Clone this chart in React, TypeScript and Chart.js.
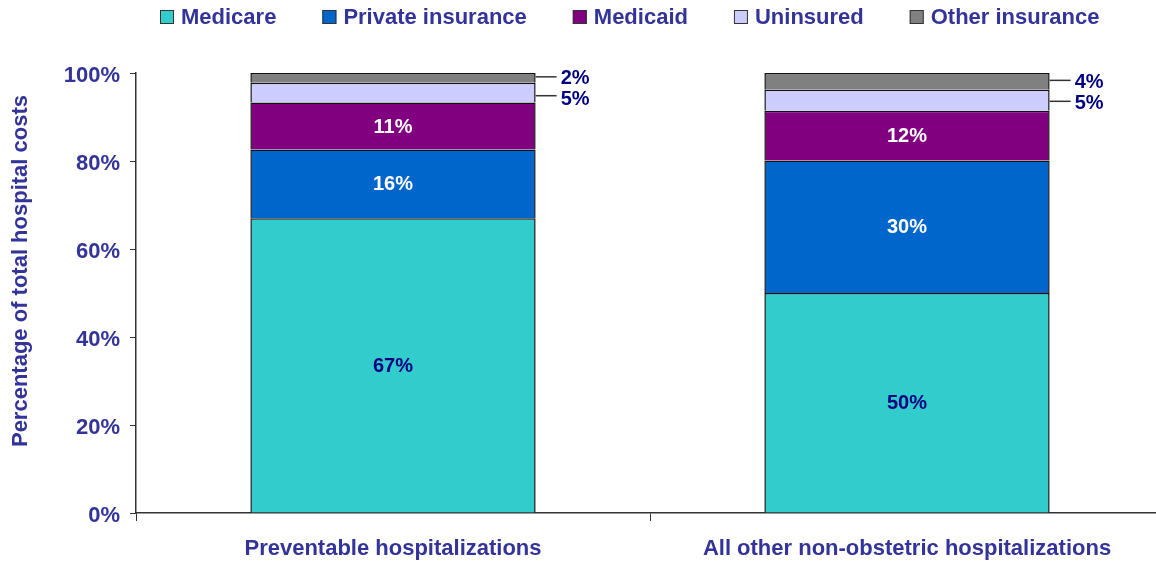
import React, { useEffect, useRef } from "react";
import { Chart, registerables } from "chart.js";

Chart.register(...registerables);

const categories = ["Preventable hospitalizations", "All other non-obstetric hospitalizations"];
const seriesNames = ["Medicare", "Private insurance", "Medicaid", "Uninsured", "Other insurance"];
const medicare = [67.0, 50.0];
const privateIns = [15.6, 30.1];
const medicaid = [10.7, 11.3];
const uninsured = [4.5, 4.8];
const otherIns = [2.2, 3.8];
const medicareLabels = ["67%", "50%"];
const privateLabels = ["16%", "30%"];
const medicaidLabels = ["11%", "12%"];
const uninsuredLabels = ["5%", "5%"];
const otherLabels = ["2%", "4%"];
const yTicks = [0, 20, 40, 60, 80, 100];
const yTitle = "Percentage of total hospital costs";

const colors = ["#33CCCC", "#0066CC", "#800080", "#CCCCFF", "#808080"];
const labelColors = ["#000080", "#FFFFFF", "#FFFFFF", "#000080", "#000080"];
const FONT = "'Liberation Sans', Arial, sans-serif";
const AXIS_COLOR = "#333399";

export default function App() {
  const ref = useRef<HTMLCanvasElement | null>(null);
  useEffect(() => {
    const canvas = ref.current;
    if (!canvas) return;
    const allValues = [medicare, privateIns, medicaid, uninsured, otherIns];
    const allLabels = [medicareLabels, privateLabels, medicaidLabels, uninsuredLabels, otherLabels];

    const customPlugin = {
      id: "custom",
      afterDraw(chart: any) {
        const ctx = chart.ctx;
        ctx.save();
        ctx.font = `bold 20px ${FONT}`;
        ctx.textBaseline = "middle";
        // inside labels
        for (let di = 0; di <= 2; di++) {
          const meta = chart.getDatasetMeta(di);
          meta.data.forEach((bar: any, i: number) => {
            const mid = (bar.y + bar.base) / 2;
            ctx.fillStyle = labelColors[di];
            ctx.textAlign = "center";
            ctx.fillText(allLabels[di][i], bar.x, mid + 1);
          });
        }
        // outside labels with leader lines
        const metaU = chart.getDatasetMeta(3);
        const metaO = chart.getDatasetMeta(4);
        metaO.data.forEach((barO: any, i: number) => {
          const barU = metaU.data[i];
          const right = barO.x + barO.width / 2;
          const midO = (barO.y + barO.base) / 2;
          const midU = (barU.y + barU.base) / 2;
          const textO = midO;
          const textU = Math.max(midU, textO + 21);
          const lineO = midO - 1;
          const lineU = (midU + textU) / 2;
          const items = [
            [lineO, textO, otherLabels[i], labelColors[4]],
            [lineU, textU, uninsuredLabels[i], labelColors[3]],
          ] as any[];
          items.forEach(([ly, ty, txt, col]) => {
            ctx.strokeStyle = "#333333";
            ctx.lineWidth = 1.5;
            ctx.beginPath();
            ctx.moveTo(right, ly);
            ctx.lineTo(right + 21, ly);
            ctx.stroke();
            ctx.fillStyle = col;
            ctx.textAlign = "left";
            ctx.fillText(txt, right + 25, ty + 1);
          });
        });
        // legend
        ctx.font = `bold 22px ${FONT}`;
        ctx.textBaseline = "middle";
        ctx.textAlign = "left";
        let x = 160;
        const cy = 17;
        seriesNames.forEach((name, i) => {
          ctx.fillStyle = colors[i];
          ctx.fillRect(x, cy - 7, 14, 14);
          ctx.strokeStyle = "#333333";
          ctx.lineWidth = 1;
          ctx.strokeRect(x + 0.5, cy - 6.5, 13, 13);
          ctx.fillStyle = AXIS_COLOR;
          ctx.fillText(name, x + 21, cy + 1);
          x += 21 + ctx.measureText(name).width + 46;
        });
        // y axis title
        ctx.translate(21, 271);
        ctx.rotate(-Math.PI / 2);
        ctx.textAlign = "center";
        ctx.textBaseline = "middle";
        ctx.fillStyle = AXIS_COLOR;
        ctx.font = `bold 22px ${FONT}`;
        ctx.fillText(yTitle, 0, 0);
        ctx.restore();
      },
    };

    const chart = new Chart(canvas, {
      type: "bar",
      data: {
        labels: categories,
        datasets: allValues.map((vals, i) => ({
          label: seriesNames[i],
          data: vals,
          backgroundColor: colors[i],
          borderColor: "#111111",
          borderWidth: 1.5,
          borderSkipped: "start",
          categoryPercentage: 1,
          barPercentage: 0.555,
        })),
      },
      options: {
        responsive: false,
        animation: false,
        layout: { padding: { top: 73, left: 0, right: 0, bottom: 0 } },
        plugins: {
          legend: { display: false },
          tooltip: { enabled: false },
        },
        scales: {
          x: {
            stacked: true,
            offset: true,
            grid: {
              offset: true,
              drawOnChartArea: false,
              drawTicks: true,
              tickLength: 8,
              color: "#333333",
            },
            border: { display: true, color: "#333333", width: 1.5 },
            ticks: {
              color: AXIS_COLOR,
              font: { family: FONT, size: 22, weight: "bold" },
              padding: 15,
              maxRotation: 0,
            },
            afterFit: (s: any) => {
              s.height = 49;
            },
          },
          y: {
            stacked: true,
            min: 0,
            max: 100,
            afterBuildTicks: (s: any) => {
              s.ticks = yTicks.map((v) => ({ value: v }));
            },
            grid: {
              drawOnChartArea: false,
              drawTicks: true,
              tickLength: 6,
              color: "#333333",
            },
            border: { display: true, color: "#333333", width: 1.5 },
            ticks: {
              color: AXIS_COLOR,
              font: { family: FONT, size: 22, weight: "bold" },
              padding: 10,
              labelOffset: 3,
              callback: (v: any) => `${v}%`,
            },
            afterFit: (s: any) => {
              s.width = 136;
            },
          },
        },
      },
      plugins: [customPlugin],
    });
    return () => chart.destroy();
  }, []);

  return (
    <div style={{ position: "fixed", left: 0, top: 0, width: 1156, height: 562, overflow: "hidden", background: "#fff" }}>
      <canvas ref={ref} width={1164} height={562} style={{ width: 1164, height: 562, display: "block" }} />
    </div>
  );
}
